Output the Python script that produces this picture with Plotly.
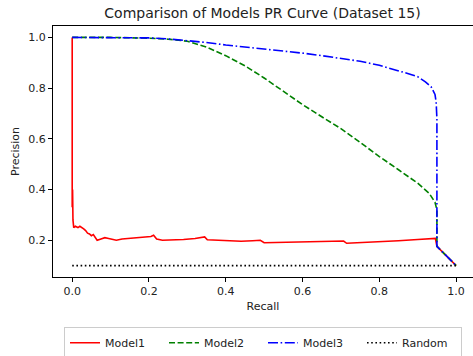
import plotly.graph_objects as go

m1_recall = [0.0, 0.0, 0.0, 0.0, 0.001, 0.002, 0.004, 0.008, 0.015, 0.02, 0.025, 0.03, 0.035, 0.04, 0.045, 0.05, 0.055, 0.06, 0.065,
             0.075, 0.085, 0.095, 0.105, 0.115, 0.13, 0.15, 0.17, 0.19, 0.205, 0.212, 0.22, 0.235, 0.26, 0.29, 0.32, 0.345,
             0.352, 0.38, 0.41, 0.44, 0.47, 0.49, 0.5, 0.53, 0.56, 0.6, 0.65, 0.7, 0.707, 0.715, 0.75, 0.8, 0.85, 0.9, 0.94,
             0.946, 0.95, 1.0]
m1_precision = [1.0, 0.34, 0.43, 0.33, 0.4, 0.28, 0.25, 0.255, 0.25, 0.255, 0.248, 0.245, 0.238, 0.228, 0.225, 0.218, 0.222, 0.212, 0.2,
                0.205, 0.21, 0.207, 0.204, 0.2, 0.205, 0.207, 0.21, 0.213, 0.215, 0.22, 0.205, 0.2, 0.201, 0.203, 0.207, 0.213,
                0.202, 0.2, 0.198, 0.196, 0.198, 0.2, 0.19, 0.191, 0.192, 0.194, 0.196, 0.198, 0.197, 0.188, 0.19, 0.195, 0.198,
                0.203, 0.208, 0.207, 0.176, 0.1]

m2_recall = [0.0, 0.1, 0.2, 0.25, 0.3, 0.35, 0.4, 0.45, 0.5, 0.55, 0.6, 0.65, 0.7, 0.75, 0.8, 0.85, 0.9, 0.93, 0.945, 0.95, 0.95, 1.0]
m2_precision = [1.0, 1.0, 0.997, 0.993, 0.985, 0.962, 0.928, 0.888, 0.84, 0.787, 0.735, 0.687, 0.64, 0.586, 0.53, 0.478, 0.425,
                0.385, 0.35, 0.32, 0.176, 0.1]

m3_recall = [0.0, 0.1, 0.2, 0.25, 0.3, 0.35, 0.4, 0.45, 0.5, 0.55, 0.6, 0.65, 0.7, 0.75, 0.8, 0.85, 0.88, 0.9, 0.92, 0.935,
             0.945, 0.948, 0.95, 0.95, 1.0]
m3_precision = [1.0, 1.0, 0.998, 0.994, 0.988, 0.98, 0.97, 0.962, 0.955, 0.947, 0.938, 0.928, 0.918, 0.906, 0.89, 0.87, 0.855,
                0.845, 0.825, 0.805, 0.775, 0.745, 0.68, 0.176, 0.1]

rand_recall = [0.0, 1.0]
rand_precision = [0.1, 0.1]

x_ticks = [0.0, 0.2, 0.4, 0.6, 0.8, 1.0]
y_ticks = [0.2, 0.4, 0.6, 0.8, 1.0]

FONT = "DejaVu Sans"
fig = go.Figure()
fig.add_trace(go.Scatter(x=m1_recall, y=m1_precision, mode="lines", name="Model1",
                         line=dict(color="red", width=1.6)))
fig.add_trace(go.Scatter(x=m2_recall, y=m2_precision, mode="lines", name="Model2",
                         line=dict(color="green", width=1.6, dash="6px,2.6px")))
fig.add_trace(go.Scatter(x=m3_recall, y=m3_precision, mode="lines", name="Model3",
                         line=dict(color="blue", width=1.6, dash="10px,2.6px,1.6px,2.6px")))
fig.add_trace(go.Scatter(x=rand_recall, y=rand_precision, mode="lines", name="Random",
                         line=dict(color="black", width=1.6, dash="1.6px,2.6px")))

axis_common = dict(showgrid=False, zeroline=False, showline=True, linecolor="black", linewidth=1,
                   mirror=True, ticks="outside", ticklen=4, tickcolor="black",
                   tickfont=dict(family=FONT, size=11, color="#222"))
fig.update_layout(
    width=473, height=356,
    margin=dict(l=53, r=0, t=26, b=79, autoexpand=False),
    plot_bgcolor="white", paper_bgcolor="white",
    title=dict(text="Comparison of Models PR Curve (Dataset 15)", x=0.555, xanchor="center", y=0.963, yanchor="middle",
               font=dict(family=FONT, size=14, color="#222")),
    xaxis=dict(range=[-0.05, 1.044], tickvals=x_ticks, ticktext=[f"{v:.1f}" for v in x_ticks],
               title=dict(text="Recall", font=dict(family=FONT, size=11, color="#222"), standoff=5), **axis_common),
    yaxis=dict(range=[0.055, 1.045], tickvals=y_ticks, ticktext=[f"{v:.1f}" for v in y_ticks],
               title=dict(text="Precision", font=dict(family=FONT, size=11, color="#222"), standoff=6), **axis_common),
    legend=dict(orientation="h", x=0.5, xanchor="center", y=-0.2, yanchor="top",
                font=dict(family=FONT, size=11, color="#222"), bordercolor="#ccc", borderwidth=1,
                entrywidth=54, entrywidthmode="pixels", bgcolor="white"),
    showlegend=True,
)
fig.write_html("out.html")
